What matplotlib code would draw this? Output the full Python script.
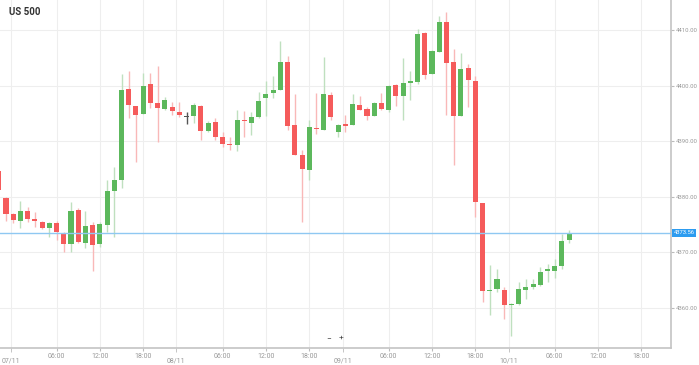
import matplotlib.pyplot as plt
import matplotlib.transforms as mtransforms

# hourly candles, index 0 = first full candle on 07/11
idx = list(range(-1, 79))
opens = [4384.7, 4379.7, 4376.9, 4375.6, 4377.4, 4376.0, 4375.4, 4374.4, 4375.2, 4373.4,
         4371.5, 4377.6, 4371.7, 4374.9, 4371.5, 4374.9, 4381.0, 4383.1, 4399.4, 4396.3,
         4394.9, 4400.2, 4396.9, 4395.8, 4396.2, 4395.3, 4394.4, 4394.6, 4396.4, 4391.8,
         4393.5, 4390.7, 4389.5, 4389.3, 4393.7, 4393.3, 4394.3, 4397.7, 4398.6, 4399.3,
         4404.3, 4392.9, 4387.6, 4384.8, 4392.4, 4392.1, 4398.4, 4391.6, 4393.1, 4392.9,
         4396.5, 4395.8, 4394.5, 4396.8, 4395.6, 4400.1, 4398.1, 4400.4, 4400.7, 4409.4,
         4402.1, 4406.1, 4411.4, 4404.2, 4394.5, 4403.1, 4400.9, 4378.9, 4363.1, 4363.4,
         4363.2, 4360.5, 4360.7, 4363.2, 4363.7, 4364.1, 4366.7, 4366.7, 4367.6, 4372.2]
highs = [4385.2, 4380.0, 4377.1, 4379.3, 4378.2, 4377.3, 4375.7, 4375.5, 4375.7, 4373.7,
         4379.0, 4377.9, 4377.5, 4375.5, 4375.5, 4383.0, 4385.3, 4402.0, 4402.7, 4396.3,
         4402.2, 4402.2, 4403.6, 4398.0, 4397.0, 4397.1, 4395.2, 4396.8, 4396.5, 4393.6,
         4394.1, 4391.7, 4390.8, 4395.7, 4395.5, 4395.3, 4398.9, 4400.9, 4401.7, 4408.0,
         4405.3, 4398.5, 4388.4, 4393.8, 4398.7, 4405.1, 4398.9, 4393.1, 4394.7, 4398.5,
         4398.1, 4396.2, 4397.1, 4398.7, 4400.1, 4400.3, 4405.0, 4402.7, 4410.2, 4409.7,
         4406.4, 4412.5, 4413.2, 4406.5, 4405.8, 4403.8, 4401.7, 4378.9, 4367.8, 4367.0,
         4363.7, 4360.9, 4364.6, 4365.3, 4365.3, 4367.3, 4368.0, 4368.8, 4373.3, 4374.0]
lows = [4381.0, 4375.6, 4375.3, 4374.3, 4375.5, 4374.5, 4374.2, 4372.8, 4372.2, 4370.1,
        4370.1, 4371.6, 4370.8, 4366.7, 4371.0, 4373.7, 4372.8, 4381.6, 4394.1, 4386.3,
        4394.9, 4395.9, 4389.8, 4395.6, 4394.8, 4394.4, 4393.1, 4393.2, 4390.2, 4391.7,
        4390.3, 4388.9, 4388.4, 4388.3, 4390.8, 4391.2, 4394.1, 4394.5, 4397.7, 4399.3,
        4392.0, 4387.5, 4375.5, 4383.0, 4391.3, 4392.0, 4393.8, 4390.8, 4391.7, 4392.9,
        4395.6, 4393.9, 4394.5, 4395.6, 4395.3, 4396.3, 4393.9, 4397.4, 4400.2, 4401.2,
        4402.1, 4406.1, 4394.8, 4385.8, 4394.5, 4396.1, 4376.3, 4361.1, 4358.7, 4362.9,
        4358.0, 4355.0, 4360.5, 4361.7, 4363.4, 4363.9, 4364.6, 4365.4, 4367.0, 4371.6]
closes = [4381.2, 4376.9, 4375.8, 4377.5, 4376.0, 4375.6, 4374.3, 4375.3, 4373.7, 4371.5,
          4377.5, 4371.8, 4374.7, 4371.4, 4375.1, 4381.0, 4383.0, 4399.2, 4396.5, 4394.7,
          4400.0, 4396.8, 4396.0, 4397.4, 4395.5, 4394.8, 4394.4, 4396.5, 4391.8, 4393.2,
          4390.7, 4389.5, 4389.3, 4393.8, 4393.6, 4394.3, 4397.3, 4398.5, 4399.2, 4404.3,
          4392.7, 4387.5, 4385.0, 4392.5, 4392.2, 4398.5, 4394.3, 4392.9, 4392.7, 4396.7,
          4395.7, 4394.5, 4396.9, 4395.8, 4399.9, 4398.2, 4400.4, 4400.8, 4409.2, 4401.9,
          4406.2, 4411.4, 4404.0, 4394.5, 4402.9, 4401.0, 4379.1, 4363.1, 4363.3, 4365.3,
          4360.5, 4360.8, 4363.4, 4363.8, 4364.3, 4366.5, 4367.0, 4367.6, 4372.1, 4373.56]
last_price = 4373.56

hour_pos = [7, 13, 19, 30, 36, 42, 53, 59, 65, 76, 82, 88]
hour_labels = ["06:00", "12:00", "18:00"] * 4
day_pos = [0.7, 23.5, 46.7, 69.7]
day_labels = ["07/11", "08/11", "09/11", "10/11"]
y_ticks = [4360, 4370, 4380, 4390, 4400, 4410]

green = "#5cb85c"
red = "#f55b5b"
green_wick = "#bfe0bf"
red_wick = "#f9b8b8"

plt.rcParams["font.family"] = "Roboto"
fig = plt.figure(figsize=(6.99, 3.65), dpi=100, facecolor="white")
ax = fig.add_axes([0, 1 - 348 / 365, 671 / 699, 348 / 365])

for i, o, h, l, c in zip(idx, opens, highs, lows, closes):
    if c > o:
        body, wick = green, green_wick
    elif c < o:
        body, wick = red, red_wick
    else:
        body, wick = "#555555", "#555555"
    ax.vlines(i, l, h, color=wick, linewidth=1, zorder=2)
    height = max(abs(c - o), 0.2)
    ax.bar(i, height, bottom=min(o, c), width=0.7, color=body, zorder=3, linewidth=0)

ax.axhline(last_price, color="#8fc8f2", linewidth=1, zorder=4)

ax.set_xlim(-0.83, 92.1)
ax.set_ylim(4352.8, 4415.4)

ax.set_xticks(hour_pos)
ax.set_xticklabels(hour_labels)
ax.set_xticks(day_pos, minor=True)
ax.set_xticklabels(day_labels, minor=True)
ax.tick_params(axis="x", which="major", labelsize=5, colors="#bbbbbb", labelcolor="#999999", length=2, pad=1.5)
ax.tick_params(axis="x", which="minor", labelsize=5, colors="#bbbbbb", labelcolor="#999999", length=3, pad=4)

ax.yaxis.tick_right()
ax.set_yticks(y_ticks)
ax.set_yticklabels(["%.2f" % v for v in y_ticks])
ax.tick_params(axis="y", labelsize=4.3, colors="#bbbbbb", labelcolor="#999999", length=2, pad=1.5)

ax.grid(True, which="both", color="#eeeeee", linewidth=0.8, zorder=0)
ax.set_axisbelow(True)
for side in ["top", "left"]:
    ax.spines[side].set_visible(False)
for side in ["right", "bottom"]:
    ax.spines[side].set_color("#c4c4c4")
    ax.spines[side].set_linewidth(1.2)

ax.text(0.013, 0.965, "US 500", transform=ax.transAxes, fontsize=7, fontweight="bold",
        color="#333333", va="center", ha="left")

# last price tag on the right axis
trans = mtransforms.blended_transform_factory(ax.transAxes, ax.transData)
ax.text(1.004, last_price, "4373.56", transform=trans, fontsize=4.2, color="white",
        va="center", ha="left", clip_on=False,
        bbox=dict(boxstyle="square,pad=0.25", fc="#2d9cf0", ec="none"))

# zoom buttons
ax.text(0.49, 0.029, "\u2212", transform=ax.transAxes, fontsize=6, color="#444444", ha="center", va="center")
ax.text(0.508, 0.029, "+", transform=ax.transAxes, fontsize=6, color="#444444", ha="center", va="center")

fig.savefig("out.png", dpi=100, facecolor="white")
